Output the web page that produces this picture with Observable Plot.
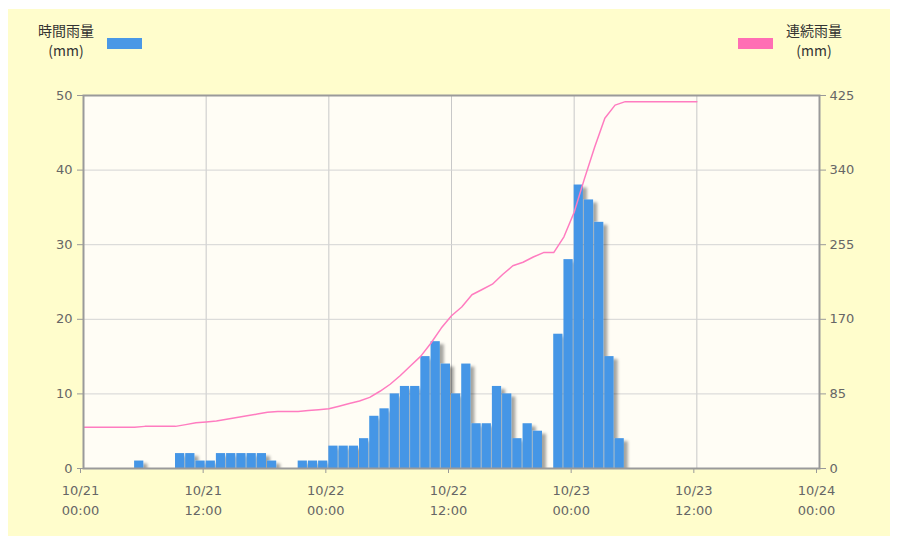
<!DOCTYPE html>
<html>
<head>
<meta charset="utf-8">
<script src="https://cdn.jsdelivr.net/npm/d3@7"></script>
<script src="https://cdn.jsdelivr.net/npm/@observablehq/plot@0.6"></script>
<style>
  html, body { margin: 0; padding: 0; background: #fff; }
  #wrap { position: relative; width: 898px; height: 536px; overflow: hidden; }
  #bg { position: absolute; left: 8px; top: 9px; width: 882px; height: 527px; background: #FFFDCC; }
  .lg { position: absolute; font-family: "Noto Sans CJK JP", "Noto Sans", sans-serif; font-size: 14px; color: #333; text-align: center; line-height: 20px; }
  .sw { position: absolute; width: 35px; height: 11px; }
  #chart { position: absolute; left: 0; top: 80px; }
</style>
</head>
<body>
<div id="wrap">
  <div id="bg"></div>
  <div class="lg" id="lgL" style="left:30px; top:20px; width:72px;"></div>
  <div class="sw" style="left:107px; top:38px; background:#4A98E6;"></div>
  <div class="sw" style="left:738px; top:38px; background:#FF6EB4;"></div>
  <div class="lg" id="lgR" style="left:778px; top:20px; width:72px;"></div>
  <div id="chart"></div>
</div>
<script>
// ---- data ----
const legendHourly = ["時間雨量", "(mm)"];
const legendTotal = ["連続雨量", "(mm)"];

// hourly rainfall (mm), one value per hour starting 10/21 00:00
const hourlyRain = [
  0, 0, 0, 0, 0, 1, 0, 0, 0, 2, 2, 1, 1, 2, 2, 2, 2, 2, 1, 0, 0, 1, 1, 1,
  3, 3, 3, 4, 7, 8, 10, 11, 11, 15, 17, 14, 10, 14, 6, 6, 11, 10, 4, 6,
  5, 0, 18, 28, 38, 36, 33, 15, 4, 0, 0, 0, 0, 0, 0, 0
];
// continuous rainfall (mm) at each hour boundary from 10/21 00:00 to 10/23 12:00
const totalRain = [
  47, 47, 47, 47, 47, 47, 48, 48, 48, 48, 50, 52, 53, 54, 56, 58, 60, 62,
  64, 65, 65, 65, 66, 67, 68, 71, 74, 77, 81, 88, 96, 106, 117, 128, 143,
  160, 174, 184, 198, 204, 210, 221, 231, 235, 241, 246, 246, 264, 292,
  330, 366, 399, 414, 418, 418, 418, 418, 418, 418, 418, 418
];

const xTicks = [0, 12, 24, 36, 48, 60, 72];
const xTickLabels = ["10/21\n00:00", "10/21\n12:00", "10/22\n00:00", "10/22\n12:00", "10/23\n00:00", "10/23\n12:00", "10/24\n00:00"];
const leftTicks = [0, 10, 20, 30, 40, 50];
const rightTicks = [0, 85, 170, 255, 340, 425];

// ---- legend ----
document.getElementById("lgL").innerHTML = legendHourly.join("<br>");
document.getElementById("lgR").innerHTML = legendTotal.join("<br>");

// ---- build tables ----
const leftMax = 50, rightMax = 425;
const bars = hourlyRain.map((v, i) => ({h: i, v}));
const line = totalRain.map((v, i) => ({h: i, v: v * leftMax / rightMax}));

const chart = Plot.plot({
  width: 898,
  height: 456,
  marginLeft: 83,
  marginRight: 79,
  marginTop: 15,
  marginBottom: 68,
  style: {fontFamily: "DejaVu Sans, Verdana, sans-serif", fontSize: "13px", color: "#666", background: "transparent", overflow: "visible"},
  x: {domain: [0, 72], ticks: xTicks},
  y: {domain: [0, leftMax], ticks: leftTicks},
  marks: [
    Plot.frame({fill: "#FFFDF5", stroke: null}),
    Plot.gridX(xTicks, {stroke: "#c8c8c8", strokeOpacity: 1, strokeWidth: 1}),
    Plot.gridY(leftTicks, {stroke: "#d4d4d4", strokeOpacity: 1, strokeWidth: 1}),
    Plot.rectY(bars, {x1: "h", x2: d => d.h + 1, y: "v", fill: "#4596E6", insetRight: 1, clip: true, className: "bars"}),
    Plot.line(line, {x: "h", y: "v", stroke: "#FF7CC0", strokeWidth: 1.5, clip: true}),
    Plot.axisX({ticks: xTicks, tickFormat: (d, i) => xTickLabels[i], tickSize: 5, tickPadding: 8, lineHeight: 1.5, fontSize: 13, dx: -3, label: null, stroke: "#999", fill: "#666"}),
    Plot.axisY({anchor: "left", ticks: leftTicks, tickSize: 6, tickPadding: 5, fontSize: 13, label: null, stroke: "#999", fill: "#666"}),
    Plot.axisY({anchor: "right", ticks: leftTicks, tickFormat: (d, i) => String(rightTicks[i]), tickSize: 6, tickPadding: 4, fontSize: 13, label: null, stroke: "#999", fill: "#666"}),
    Plot.frame({stroke: "#9a9a9a", strokeWidth: 2})
  ]
});

// drop shadow on bars
const ns = "http://www.w3.org/2000/svg";
const defs = document.createElementNS(ns, "defs");
defs.innerHTML = '<filter id="barShadow" x="-20%" y="-20%" width="160%" height="140%"><feDropShadow dx="4" dy="3" stdDeviation="1.6" flood-color="#000" flood-opacity="0.35"/></filter>';
chart.insertBefore(defs, chart.firstChild);
const bg = chart.querySelector("g.bars") || chart.querySelector('[aria-label="rect"]');
if (bg) bg.setAttribute("filter", "url(#barShadow)");

document.getElementById("chart").appendChild(chart);
</script>
</body>
</html>
